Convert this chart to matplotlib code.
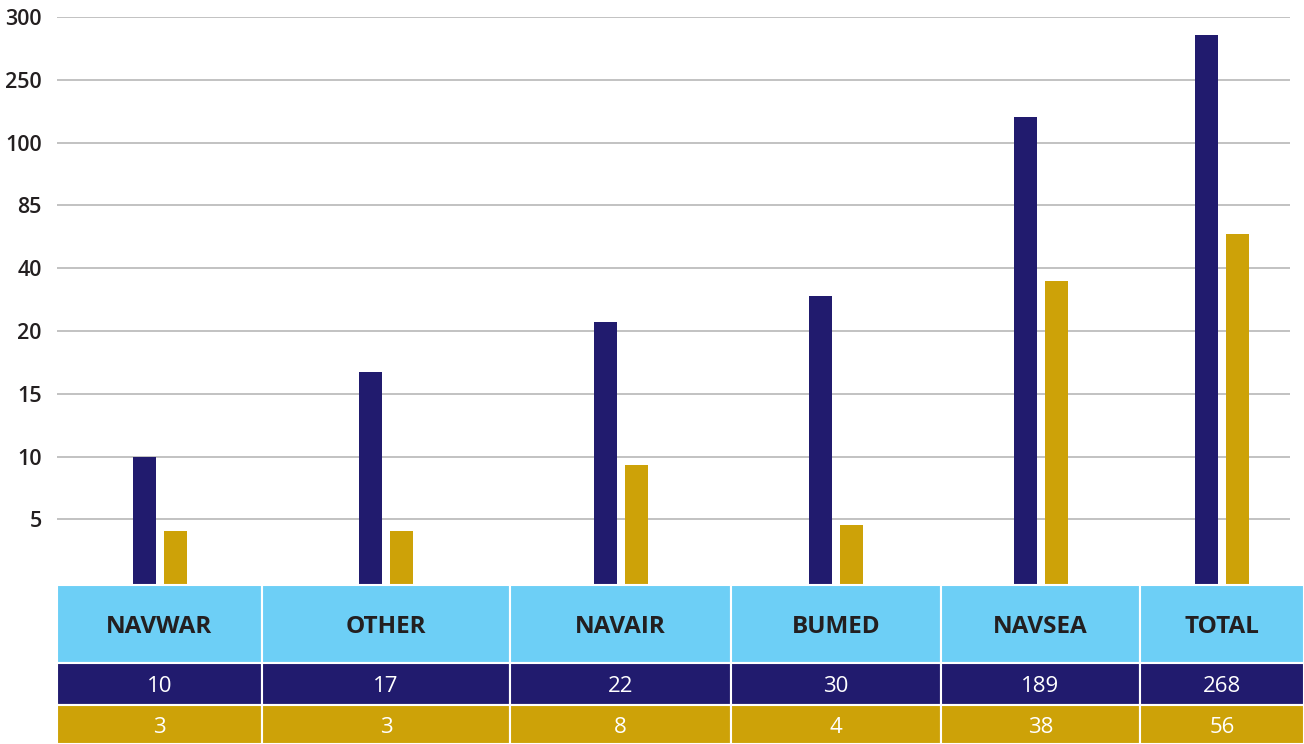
import numpy as np
import matplotlib
matplotlib.use("Agg")
import matplotlib.pyplot as plt
from matplotlib.patches import Rectangle

# ---------------- data ----------------
categories = ["NAVWAR", "OTHER", "NAVAIR", "BUMED", "NAVSEA", "TOTAL"]
table_dark = [10, 17, 22, 30, 189, 268]
table_gold = [3, 3, 8, 4, 38, 56]
# bar heights as read against the (non-linear) value axis
bar_dark = [10, 16.7, 22.9, 31.2, 161.4, 285.8]
bar_gold = [4.1, 4.1, 9.3, 4.55, 35.9, 64.8]
tick_values = [5, 10, 15, 20, 40, 85, 100, 250, 300]
tick_labels = ["5", "10", "15", "20", "40", "85", "100", "250", "300"]

# ---------------- style ----------------
DARK = "#211b6e"
GOLD = "#cda208"
HEAD = "#6dcff6"
GRID = "#b8b8b8"
TXT = "#231f20"
FONT = ["Open Sans", "DejaVu Sans"]

W, H = 1304, 744
fig = plt.figure(figsize=(W / 100, H / 100), dpi=100)

# layout in pixels
col_edges = [57, 262, 510, 731, 941, 1140, 1304]
row_edges = [585, 662.5, 704.5, 744]
plot_top = 17
plot_bottom = 585
grid_right = 1290
bar_w = 23
bar_off = 15.5
text_shift = 3.5

# piecewise-linear value scale: ticks evenly spaced
bp_vals = np.array([0] + tick_values, dtype=float)
bp_pos = np.arange(len(bp_vals), dtype=float)


def fwd(v):
    v = np.asarray(v, dtype=float)
    return np.where(v < 0, v / 5.0, np.interp(v, bp_vals, bp_pos))


def inv(p):
    p = np.asarray(p, dtype=float)
    return np.where(p < 0, p * 5.0, np.interp(p, bp_pos, bp_vals))


step = (582.2 - plot_top) / 9.0
y_low = float(inv(-(plot_bottom - 582.2) / step))

ax = fig.add_axes([col_edges[0] / W, (H - plot_bottom) / H,
                   (W - col_edges[0]) / W, (plot_bottom - plot_top) / H])
ax.set_yscale("function", functions=(fwd, inv))
ax.set_xlim(col_edges[0], W)
ax.set_ylim(y_low, 300)

for tv in tick_values:
    ax.hlines(tv, col_edges[0], grid_right, color=GRID, lw=1.2, zorder=1)

centers = [(a + b) / 2 for a, b in zip(col_edges[:-1], col_edges[1:])]
for c, d, g in zip(centers, bar_dark, bar_gold):
    ax.bar(c - bar_off, d - y_low, bottom=y_low, width=bar_w, color=DARK, zorder=2)
    ax.bar(c + bar_off, g - y_low, bottom=y_low, width=bar_w, color=GOLD, zorder=2)

ax.set_yticks(tick_values)
ax.set_yticklabels(tick_labels, fontsize=15.5, color=TXT, family=FONT,
                   fontweight="semibold")
ax.tick_params(axis="y", length=0, pad=11)
ax.set_xticks([])
ax.yaxis.set_minor_locator(matplotlib.ticker.NullLocator())
for s in ax.spines.values():
    s.set_visible(False)
ax.patch.set_alpha(0)

# ---------------- table ----------------
tax = fig.add_axes([0, 0, 1, 1])
tax.set_xlim(0, W)
tax.set_ylim(H, 0)
tax.axis("off")
tax.patch.set_alpha(0)

row_colors = [HEAD, DARK, GOLD]
row_texts = [categories, [str(v) for v in table_dark], [str(v) for v in table_gold]]
for r in range(3):
    y0, y1 = row_edges[r], row_edges[r + 1]
    for ci in range(len(categories)):
        x0, x1 = col_edges[ci], col_edges[ci + 1]
        tax.add_patch(Rectangle((x0, y0), x1 - x0, y1 - y0, facecolor=row_colors[r],
                                edgecolor="white", lw=1.5))
        ty = (y0 + y1) / 2 + text_shift
        if r == 0:
            tax.text((x0 + x1) / 2, ty, row_texts[r][ci], ha="center",
                     va="center", fontsize=17.5, fontweight="bold", color=TXT, family=FONT)
        else:
            tax.text((x0 + x1) / 2, ty, row_texts[r][ci], ha="center",
                     va="center", fontsize=16, color="white", family=FONT,
                     fontweight="medium")

fig.savefig("out.png", dpi=100)
